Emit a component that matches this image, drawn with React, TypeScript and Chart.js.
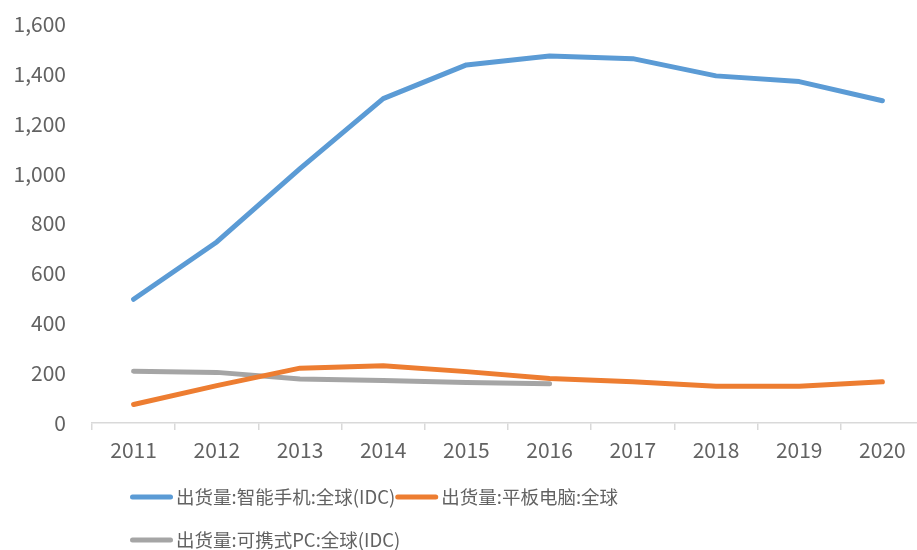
import React, { useEffect, useRef } from "react";
import { Chart, registerables } from "chart.js";

Chart.register(...registerables);

const years = ["2011", "2012", "2013", "2014", "2015", "2016", "2017", "2018", "2019", "2020"];
const smartphone = [496, 726, 1020, 1301, 1436, 1472, 1461, 1392, 1369, 1292];
const tablet = [74, 150, 220, 230, 206, 178, 165, 147, 147, 165];
const laptop = [208, 203, 176, 170, 162, 157, null, null, null, null];
const seriesNames = ["出货量:智能手机:全球(IDC)", "出货量:平板电脑:全球", "出货量:可携式PC:全球(IDC)"];
const seriesColors = ["#5B9BD5", "#ED7D31", "#A5A5A5"];

const FONT = '"Noto Sans CJK SC", "Liberation Sans", sans-serif';
const TEXT = "#626262";

const legendPlugin = {
  id: "customLegend",
  afterDraw(chart: any) {
    const ctx = chart.ctx;
    ctx.save();
    ctx.font = `18.5px ${FONT}`;
    ctx.textBaseline = "middle";
    ctx.textAlign = "left";
    const startX = 130;
    const maxX = 800;
    const rowY = [497, 540];
    const sw = 43;
    let x = startX;
    let row = 0;
    chart.data.datasets.forEach((ds: any) => {
      const tw = ctx.measureText(ds.label).width;
      const w = sw + 3 + tw;
      if (x > startX && x + w > maxX) {
        row++;
        x = startX;
      }
      const y = rowY[row];
      ctx.strokeStyle = ds.borderColor;
      ctx.lineWidth = 5;
      ctx.lineCap = "round";
      ctx.beginPath();
      ctx.moveTo(x + 2.5, y);
      ctx.lineTo(x + sw - 2.5, y);
      ctx.stroke();
      ctx.fillStyle = TEXT;
      ctx.fillText(ds.label, x + sw + 3, y);
      x += w;
    });
    ctx.restore();
  },
};

export default function App() {
  const ref = useRef<HTMLCanvasElement | null>(null);
  useEffect(() => {
    if (!ref.current) return;
    const mk = (i: number, data: (number | null)[]) => ({
      label: seriesNames[i],
      data,
      borderColor: seriesColors[i],
      backgroundColor: seriesColors[i],
      borderWidth: 5,
      borderCapStyle: "round" as const,
      borderJoinStyle: "round" as const,
      pointRadius: 0,
      tension: 0,
      spanGaps: false,
    });
    const chart = new Chart(ref.current, {
      type: "line",
      data: {
        labels: years,
        datasets: [mk(0, smartphone), mk(1, tablet), mk(2, laptop)],
      },
      options: {
        animation: false,
        responsive: true,
        maintainAspectRatio: false,
        layout: { padding: { top: 24, bottom: 77, left: 0, right: 0 } },
        plugins: { legend: { display: false }, tooltip: { enabled: false } },
        scales: {
          x: {
            offset: true,
            grid: {
              offset: true,
              drawOnChartArea: false,
              drawTicks: true,
              tickLength: 7,
              color: "#D9D9D9",
              lineWidth: 1.5,
            },
            border: { display: true, color: "#D9D9D9", width: 1.5 },
            ticks: { color: TEXT, font: { family: FONT, size: 21 }, padding: 7, maxRotation: 0 },
            afterFit: (s: any) => {
              s.height = 50;
            },
          },
          y: {
            min: 0,
            max: 1600,
            grid: {
              display: true,
              drawOnChartArea: false,
              drawTicks: true,
              tickLength: 26,
              color: "rgba(0,0,0,0)",
            },
            border: { display: false },
            ticks: {
              stepSize: 200,
              color: TEXT,
              font: { family: FONT, size: 21 },
              padding: 0,
              callback: (v: any) => Number(v).toLocaleString("en-US"),
            },
            afterFit: (s: any) => {
              s.width = 92;
            },
          },
        },
      },
      plugins: [legendPlugin],
    });
    return () => chart.destroy();
  }, []);
  return (
    <div style={{ position: "fixed", left: 0, top: 0, width: 924, height: 550, background: "#fff" }}>
      <canvas ref={ref} />
    </div>
  );
}
